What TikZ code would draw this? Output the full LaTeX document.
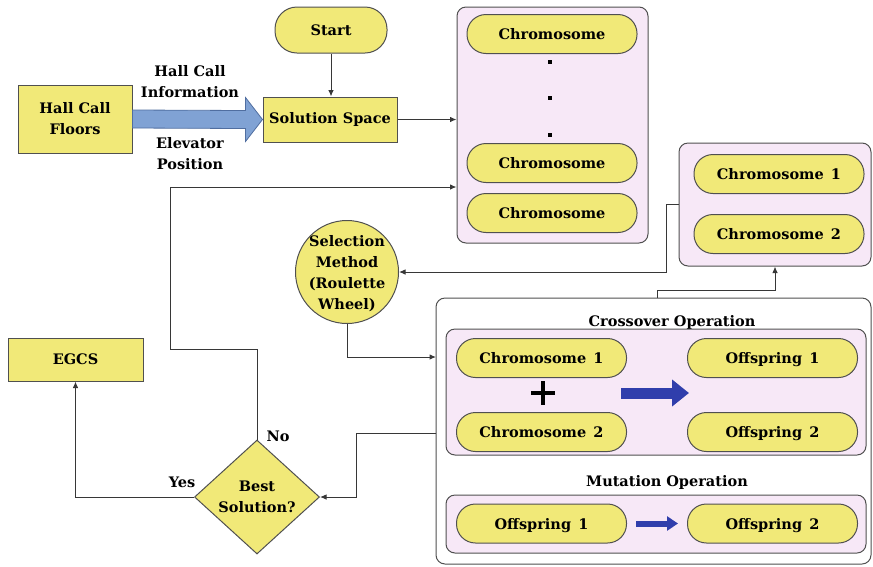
\documentclass[tikz,border=0pt]{standalone}
\usepackage{fontspec}
\setmainfont{DejaVu Serif}
\usetikzlibrary{positioning,arrows.meta,shapes.geometric,calc}

\definecolor{cellyellow}{RGB}{241,233,120}
\definecolor{panelpink}{RGB}{247,232,247}
\definecolor{edgegray}{RGB}{80,80,80}
\definecolor{linegray}{RGB}{55,55,55}
\definecolor{feedblue}{RGB}{128,162,212}
\definecolor{feededge}{RGB}{80,110,160}
\definecolor{opblue}{RGB}{48,62,172}

\begin{document}
\begin{tikzpicture}[
  x=1pt, y=-1pt,
  >=Latex,
  font=\bfseries\fontsize{14.5}{21}\selectfont,
  box/.style={draw=edgegray, line width=1pt, fill=cellyellow, align=center, inner sep=2pt},
  pill/.style={draw=edgegray, line width=1pt, fill=cellyellow, rounded corners=19pt, minimum width=170pt, minimum height=39pt, inner sep=0pt, text height=12.5pt, text depth=1pt},
  panel/.style={draw=edgegray, line width=1pt, fill=panelpink, rounded corners=9pt},
  lbl/.style={align=center, inner sep=1pt},
  arr/.style={-{Latex[length=6.5pt,width=5.5pt]}, line width=1pt, draw=linegray},
  oparrow/.style={draw=opblue, -{Triangle[length=17pt,width=26pt]}}
]
\useasboundingbox (0,0) rectangle (873,566);

% input side
\node[box, minimum width=114pt, minimum height=68pt] (floors) at (75,119) {Hall Call\\Floors};
\node[box, rounded corners=22pt, minimum width=112pt, minimum height=46pt] (start) at (331,30) {Start};
\node[box, minimum width=134pt, minimum height=45pt] (space) at (330,119.5) {Solution Space};
\node[lbl] (infolbl) at (190,82) {Hall Call\\Information};
\node[lbl] (poslbl) at (190,154) {Elevator\\Position};

% population
\node[panel, minimum width=191pt, minimum height=236pt] (pop) at (552.5,125) {};
\node[pill] (pop1) at (552,34) {Chromosome};
\node[pill] (pop2) at (552,163) {Chromosome};
\node[pill] (pop3) at (552,213) {Chromosome};
\foreach \y [count=\i] in {62,98,135}
  \node[fill=black, inner sep=0pt, minimum size=3.5pt] (dot\i) at (550,\y) {};

% selected parents
\node[panel, minimum width=192pt, minimum height=123pt] (pair) at (775,204.5) {};
\node[pill] (par1) at (779,174) {Chromosome\enspace 1};
\node[pill] (par2) at (779,234) {Chromosome\enspace 2};

\node[box, circle, minimum size=103pt, inner sep=0pt] (select) at (347,272) {};
\node[lbl] (selecttxt) at (347,274) {Selection\\Method\\(Roulette\\Wheel)};

% result side
\node[box, minimum width=135pt, minimum height=43pt] (egcs) at (75.5,359.5) {EGCS};
\node[box, diamond, minimum width=125pt, minimum height=114pt, inner sep=0pt] (best) at (257,497) {Best\\Solution?};
\node[lbl] (yes) at (182,482) {Yes};
\node[lbl] (no) at (278,436) {No};

% genetic operators
\node[draw=edgegray, line width=1pt, fill=white, rounded corners=9pt, minimum width=435pt, minimum height=266pt] (ops) at (653.5,431) {};
\node[lbl] (crosstitle) at (672,322) {Crossover Operation};
\node[panel, minimum width=420pt, minimum height=126pt] (cross) at (656,392) {};
\node[pill] (cr1) at (541.5,358) {Chromosome\enspace 1};
\node[pill] (cr2) at (541.5,432) {Chromosome\enspace 2};
\node[pill] (off1) at (772.5,358) {Offspring\enspace 1};
\node[pill] (off2) at (772.5,432) {Offspring\enspace 2};
\draw[line width=3.5pt] (531,393) -- (555,393) (543,381) -- (543,405);
\draw[oparrow, line width=11pt] (621,393) -- (689,393);

\node[lbl] (mutetitle) at (667,482) {Mutation Operation};
\node[panel, minimum width=420pt, minimum height=58pt] (mute) at (656,524) {};
\node[pill] (mu1) at (541.5,523.5) {Offspring\enspace 1};
\node[pill] (mu2) at (772.5,523.5) {Offspring\enspace 2};
\draw[draw=opblue, line width=6pt, -{Triangle[length=11pt,width=14pt]}] ([xshift=9pt]mu1.east) -- ([xshift=-9pt]mu2.west);

% connectors
\draw[fill=feedblue, draw=feededge, line width=0.8pt]
  ($(floors.east)+(0,-9)$) -- ($(space.west)+(-17,-9)$) -- ($(space.west)+(-17,-22)$)
  -- (space.west) -- ($(space.west)+(-17,22)$) -- ($(space.west)+(-17,9)$)
  -- ($(floors.east)+(0,9)$) -- cycle;
\draw[arr] (start.south) -- (start.south |- space.north);
\draw[arr] (space.east) -- (space.east -| pop.west);

\coordinate (loop) at (170,187);
\draw[arr] (best.north) -- ++(0,-90) -| (loop) -- (loop -| pop.west);

\draw[arr] (pair.west) -- ++(-12,0) |- (select.east);

\coordinate (opsin) at (436,357);
\draw[arr] (select.south) |- (opsin);

\coordinate (opsout) at (436,433);
\draw[arr] (opsout) -- ++(-80,0) |- (best.east);

\coordinate (opsup) at (657,298);
\draw[arr] (opsup) -- ++(0,-8) -| (pair.south);

\draw[arr] (best.west) -| (egcs.south);
\end{tikzpicture}
\end{document}
